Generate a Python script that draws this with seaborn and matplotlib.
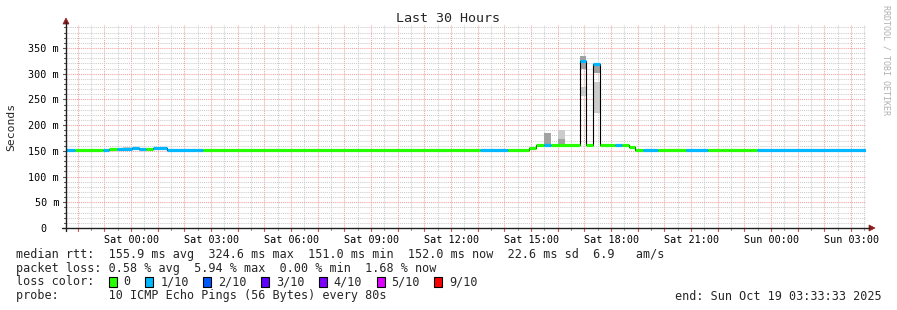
import numpy as np
import pandas as pd
import matplotlib
matplotlib.use("Agg")
import matplotlib.pyplot as plt
from matplotlib.patches import Rectangle, Polygon
from matplotlib.lines import Line2D
import seaborn as sns

# ---------------- data (hours relative to Sat 00:00, values in ms) ----------------
t_start = -2.441          # Fri 21:33:33
t_end = 27.559            # Sun 03:33:33

seg_edges = [-2.441, -2.104, -1.042, -0.818, -0.540, 0.022, 0.296, 0.559, 0.821,
             1.346, 2.471, 2.696, 13.083, 14.122, 14.921, 15.202, 15.483, 15.746,
             16.834, 17.059, 17.321, 17.584, 18.146, 18.409, 18.671, 18.896,
             19.196, 19.759, 20.809, 21.634, 22.159, 22.421, 23.209, 23.471, 27.559]
seg_median = [151, 151, 152.5, 154.5, 154.5, 156, 154.5, 154.5, 156, 152, 151, 151,
              151, 151, 155.5, 162, 162, 162, 324.6, 162, 318, 162, 162, 162, 157,
              151, 151, 151, 151, 151, 152.5, 151, 152.5, 151]
seg_loss = [1, 0, 1, 0, 1, 1, 1, 0, 1, 1, 1, 0, 1, 0, 0, 0, 1, 0, 1, 0, 1, 0, 1, 0, 0,
            0, 1, 0, 1, 0, 0, 0, 0, 1]

smoke_start = [-0.30, 0.022, 10.53, 12.52, 14.42, 15.483, 16.01, 16.01, 16.834, 16.834,
               17.321, 17.321, 20.809, 24.82]
smoke_end = [0.022, 0.296, 10.79, 12.82, 14.68, 15.746, 16.27, 16.27, 17.059, 17.059,
             17.584, 17.584, 21.07, 25.08]
smoke_low = [154.5, 156, 151, 151, 151, 162, 162, 173, 309, 257, 302, 223, 151, 151]
smoke_high = [157.5, 158, 153.5, 153, 154, 185, 173, 191, 335, 275, 316, 283, 154, 153]
smoke_dark = [0, 0, 0, 0, 0, 1, 1, 0, 1, 0, 1, 0, 0, 0]

xtick_hours = [0, 3, 6, 9, 12, 15, 18, 21, 24, 27]
xtick_labels = ["Sat 00:00", "Sat 03:00", "Sat 06:00", "Sat 09:00", "Sat 12:00",
                "Sat 15:00", "Sat 18:00", "Sat 21:00", "Sun 00:00", "Sun 03:00"]
ytick_vals = [0, 50, 100, 150, 200, 250, 300, 350]
ytick_labels = ["0  ", "50 m", "100 m", "150 m", "200 m", "250 m", "300 m", "350 m"]

loss_labels = ["0", "1/10", "2/10", "3/10", "4/10", "5/10", "9/10"]
loss_colors = ["#26ff00", "#00b8ff", "#0059ff", "#5e00ff", "#7e00ff", "#dd00ff", "#ff0000"]

title = "Last 30 Hours"
ylabel = "Seconds"
stats_rtt = "median rtt:  155.9 ms avg  324.6 ms max  151.0 ms min  152.0 ms now  22.6 ms sd  6.9   am/s"
stats_loss = "packet loss: 0.58 % avg  5.94 % max  0.00 % min  1.68 % now"
loss_title = "loss color:"
probe_text = "probe:       10 ICMP Echo Pings (56 Bytes) every 80s"
end_text = "end: Sun Oct 19 03:33:33 2025"
watermark = "RRDTOOL / TOBI OETIKER"

# ---------------- figure ----------------
sns.set_theme(style="white")
plt.rcParams["font.family"] = ["DejaVu Sans Mono", "DejaVu Sans"]

W, H = 897, 310
fig = plt.figure(figsize=(W / 100, H / 100), dpi=100)
fig.patch.set_facecolor("white")

X0, X1, Y0, Y1 = 66, 866, 228, 25   # plot area in pixels
ax = fig.add_axes([X0 / W, (H - Y0) / H, (X1 - X0) / W, (Y0 - Y1) / H])
ax.set_facecolor("white")
ymax = (Y0 - Y1) / (180.0 / 350.0)
ax.set_xlim(t_start, t_end)
ax.set_ylim(0, ymax)
for s in ax.spines.values():
    s.set_visible(False)

# grid
major_col = "#f4a0a0"
minor_col = "#cccccc"
dot = (0, (1, 1))
for h in np.arange(np.ceil(t_start * 2) / 2, t_end, 0.5):
    is_major = abs(h - round(h)) < 1e-6
    ax.axvline(h, color=major_col if is_major else minor_col, lw=0.75, ls=dot, zorder=0)
for v in np.arange(10, ymax, 10):
    is_major = int(round(v)) % 50 == 0
    ax.axhline(v, color=major_col if is_major else minor_col, lw=0.75, ls=dot, zorder=0)

# smoke
for s0, s1, lo, hi, dk in zip(smoke_start, smoke_end, smoke_low, smoke_high, smoke_dark):
    ax.bar(s0, hi - lo, bottom=lo, width=s1 - s0, align="edge",
           color="#a2a2a2" if dk else "#cbcbcb", linewidth=0, zorder=1)

# black median step line
df = pd.DataFrame({"t": seg_edges, "ms": seg_median + [seg_median[-1]]})
sns.lineplot(data=df, x="t", y="ms", drawstyle="steps-post", estimator=None, sort=False,
             color="black", linewidth=0.8, ax=ax, zorder=2)

# loss-coloured median bars
for a, b, m, l in zip(seg_edges[:-1], seg_edges[1:], seg_median, seg_loss):
    ax.hlines(m, a, b, colors=loss_colors[l], linewidth=2.3, zorder=3, capstyle="butt")

# ticks
ax.set_xticks(xtick_hours, xtick_labels)
ax.set_yticks(ytick_vals, ytick_labels)
ax.tick_params(axis="both", which="major", length=0, labelsize=7.3, colors="black")
ax.tick_params(axis="x", pad=5)
ax.tick_params(axis="y", pad=5)
ax.set_xlabel("")
ax.set_ylabel("")

# tick marks (small) drawn as short lines
def px(x, y):
    return x / W, (H - y) / H

hour_px = (X1 - X0) / (t_end - t_start)
for h in np.arange(np.ceil(t_start * 2) / 2, t_end, 0.5):
    xp = X0 + (h - t_start) * hour_px
    is_major = abs(h - round(h)) < 1e-6
    fig.add_artist(Line2D([px(xp, 0)[0]] * 2, [px(0, Y0)[1], px(0, Y0 + (2.5 if is_major else 1.5))[1]],
                          color="#d05050" if is_major else "#999999", lw=0.8))
for v in np.arange(10, ymax, 10):
    yp = Y0 - v * 180.0 / 350.0
    is_major = int(round(v)) % 50 == 0
    fig.add_artist(Line2D([px(X0 - (3 if is_major else 2), 0)[0], px(X0, 0)[0]], [px(0, yp)[1]] * 2,
                          color="#555555", lw=0.8))

# axes lines with arrows
axis_col = "#202020"
arrow_col = "#8c1c1c"
fig.add_artist(Line2D([px(X0, 0)[0]] * 2, [px(0, Y0 + 3)[1], px(0, 22)[1]], color=axis_col, lw=1.0))
fig.add_artist(Line2D([px(X0 - 4, 0)[0], px(869, 0)[0]], [px(0, Y0)[1]] * 2, color=axis_col, lw=1.0))
fig.add_artist(Polygon([px(X0 - 3, 24), px(X0 + 3, 24), px(X0, 18)], closed=True,
                       facecolor=arrow_col, edgecolor=arrow_col, lw=0.5))
fig.add_artist(Polygon([px(869, Y0 - 3), px(869, Y0 + 3), px(875, Y0)], closed=True,
                       facecolor=arrow_col, edgecolor=arrow_col, lw=0.5))

# titles and labels
mono = "DejaVu Sans Mono"
fig.text(*px(448, 19), title, ha="center", va="center", fontsize=9.6, family=mono)
fig.text(*px(11, 127), ylabel, ha="center", va="center", rotation=90, fontsize=8.2, family=mono)
fig.text(*px(886, 60), watermark, ha="center", va="center", rotation=-90, fontsize=6.0,
         family=mono, color="#b0b0b0")

fs = 8.45
cw = 7.05
fig.text(*px(16, 254.3), stats_rtt, ha="left", va="center", fontsize=fs, family=mono)
fig.text(*px(16, 268.3), stats_loss, ha="left", va="center", fontsize=fs, family=mono)
fig.text(*px(16, 281.7), loss_title, ha="left", va="center", fontsize=fs, family=mono)
fig.text(*px(16, 296), probe_text, ha="left", va="center", fontsize=fs, family=mono)
fig.text(*px(882, 296), end_text, ha="right", va="center", fontsize=fs, family=mono)

xs = 108.7
for lab, col in zip(loss_labels, loss_colors):
    x0f, y0f = px(xs, 286.5)
    fig.add_artist(Rectangle((x0f, y0f), 8 / W, 9.5 / H, facecolor=col, edgecolor="black", lw=0.8))
    fig.text(*px(xs + 14.8, 281.7), lab, ha="left", va="center", fontsize=fs, family=mono)
    xs = xs + 14.8 + len(lab) * cw + 14.8

fig.savefig("out.png", dpi=100, facecolor="white")
